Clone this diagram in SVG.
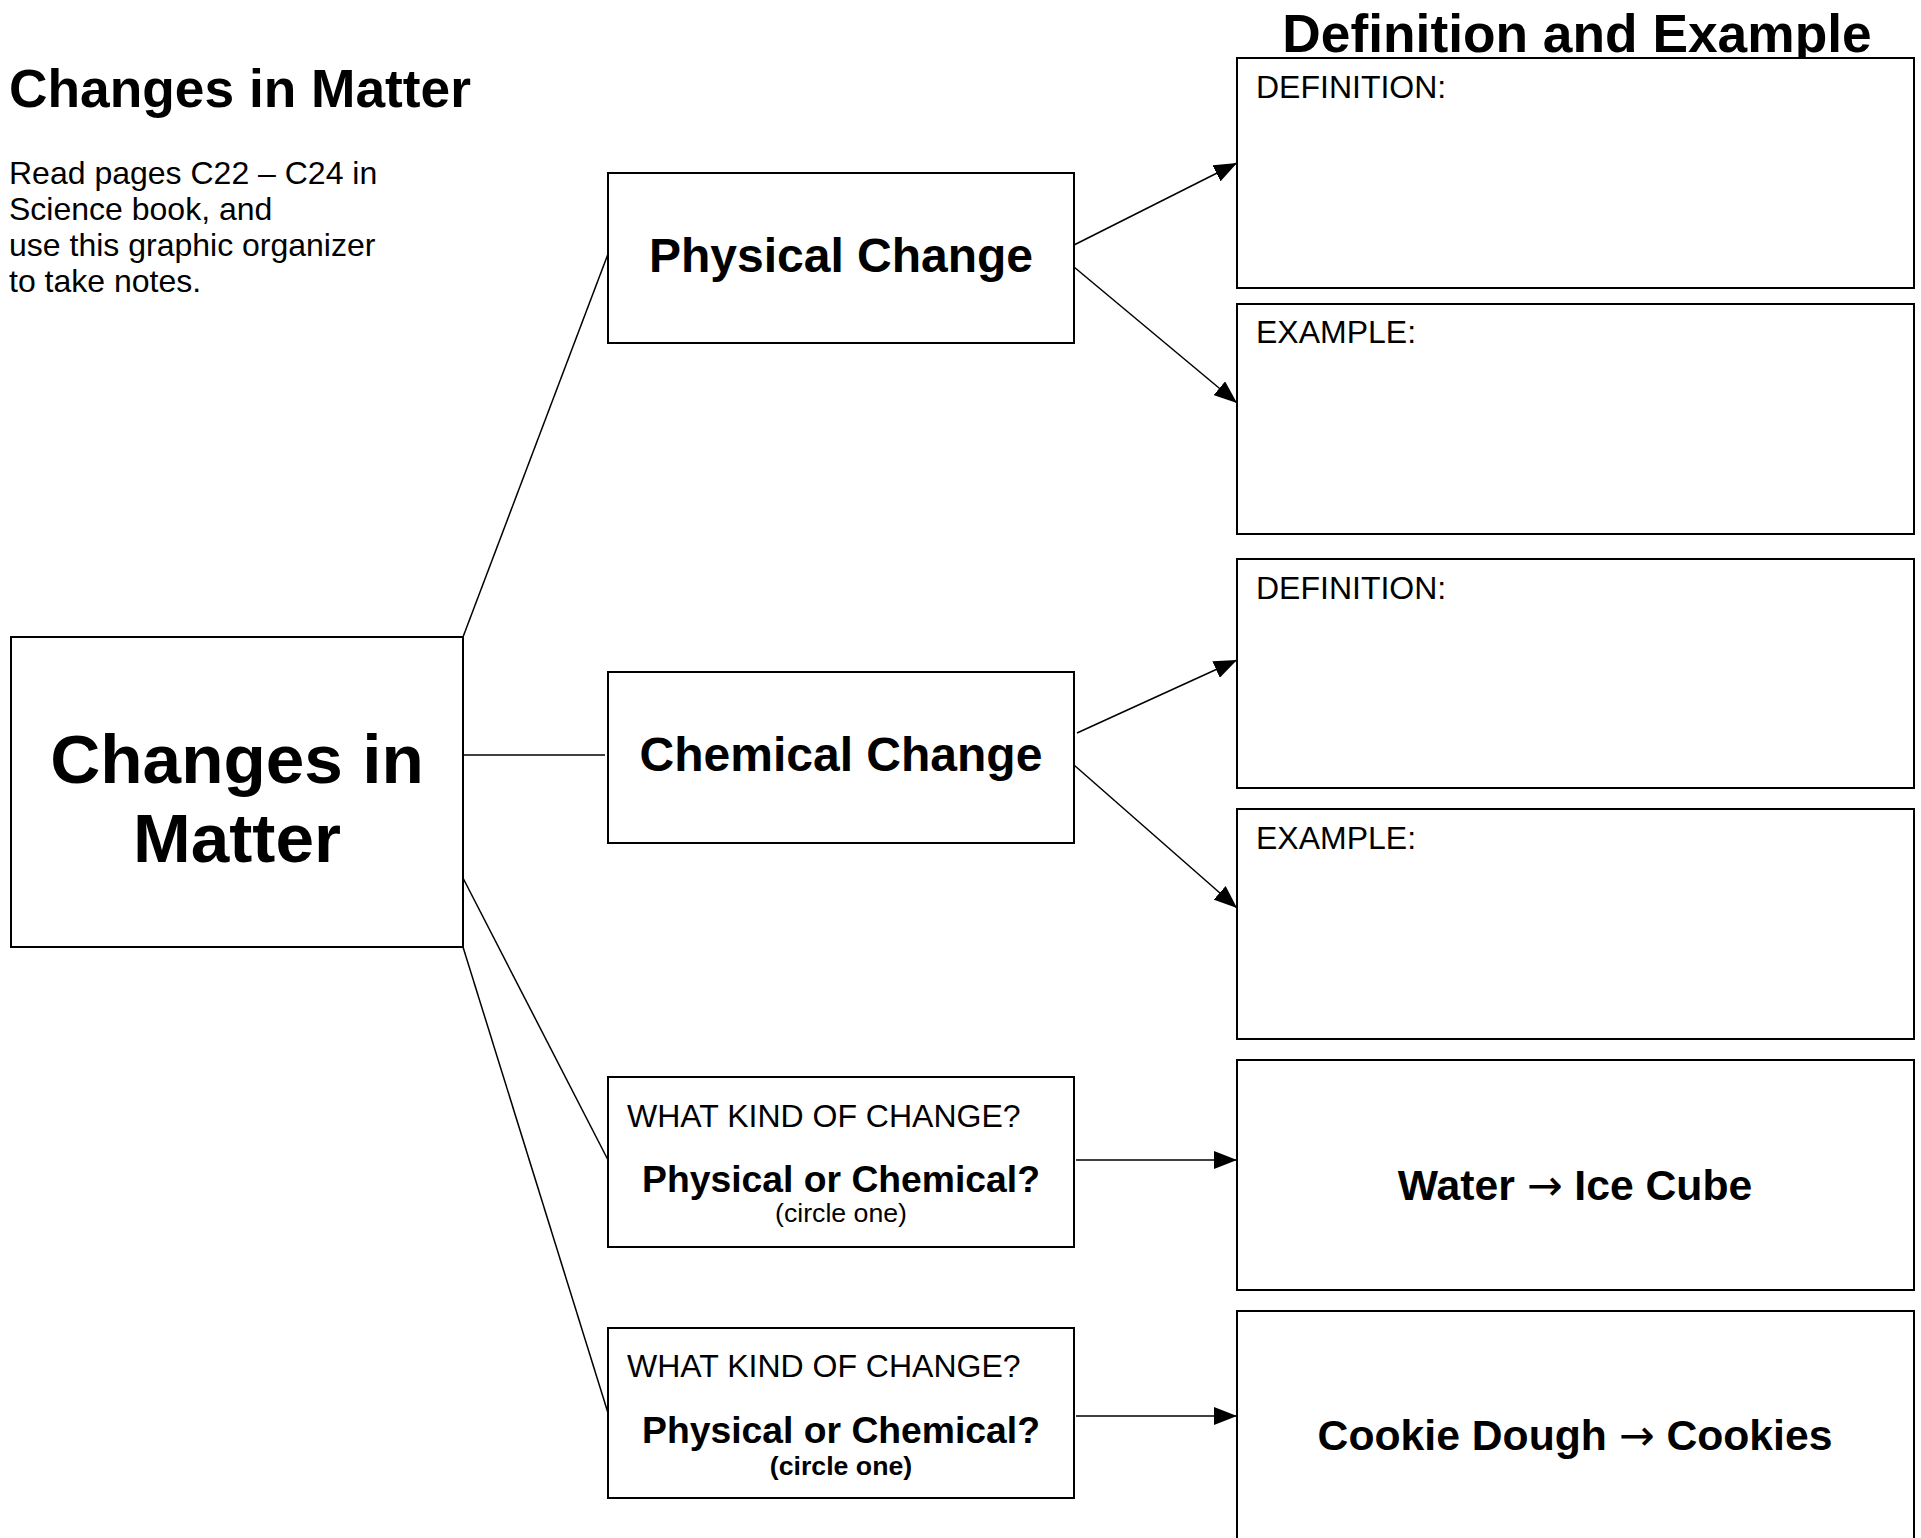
<svg xmlns="http://www.w3.org/2000/svg" width="1921" height="1538" viewBox="0 0 1921 1538">
<style>
  text { font-family: "Liberation Sans", Arial, sans-serif; fill: #000; }
  .box { fill: #fff; stroke: #000; stroke-width: 2; }
  .conn { stroke: #000; stroke-width: 1.5; fill: none; }
  .b { font-weight: bold; }
  .reg { font-size: 32px; }
  .c { text-anchor: middle; }
  .arr { font-family: "DejaVu Sans", sans-serif; font-weight: normal; }
</style>
<defs>
  <marker id="ah" markerUnits="userSpaceOnUse" markerWidth="23" markerHeight="18" refX="23" refY="9" orient="auto">
    <path d="M0,0 L23,9 L0,18 z" fill="#000"/>
  </marker>
</defs>
<rect width="1921" height="1538" fill="#fff"/>

<g id="header">
  <text x="9" y="107" class="b" font-size="53.3">Changes in Matter</text>
  <text x="9" y="184" class="reg">Read pages C22 – C24 in</text>
  <text x="9" y="220" class="reg">Science book, and</text>
  <text x="9" y="256" class="reg">use this graphic organizer</text>
  <text x="9" y="292" class="reg">to take notes.</text>
  <text x="1577" y="52" class="b c" font-size="53.3">Definition and Example</text>
</g>

<g id="connectors">
  <line class="conn" x1="463" y1="637" x2="608" y2="254"/>
  <line class="conn" x1="463" y1="755" x2="605" y2="755"/>
  <line class="conn" x1="463" y1="878" x2="608" y2="1160"/>
  <line class="conn" x1="463" y1="947" x2="608" y2="1413"/>
  <line class="conn" x1="1074" y1="245" x2="1237" y2="163" marker-end="url(#ah)"/>
  <line class="conn" x1="1074" y1="267" x2="1237" y2="403" marker-end="url(#ah)"/>
  <line class="conn" x1="1077" y1="733" x2="1237" y2="660" marker-end="url(#ah)"/>
  <line class="conn" x1="1074" y1="765" x2="1237" y2="908" marker-end="url(#ah)"/>
  <line class="conn" x1="1076" y1="1160" x2="1237" y2="1160" marker-end="url(#ah)"/>
  <line class="conn" x1="1076" y1="1416" x2="1237" y2="1416" marker-end="url(#ah)"/>
</g>

<g id="node-changes-in-matter">
  <rect class="box" x="11" y="637" width="452" height="310"/>
  <text x="237" y="783" class="b c" font-size="69.3">Changes in</text>
  <text x="237" y="862" class="b c" font-size="69.3">Matter</text>
</g>

<g id="node-physical-change">
  <rect class="box" x="608" y="173" width="466" height="170"/>
  <text x="841" y="272" class="b c" font-size="48">Physical Change</text>
</g>

<g id="node-chemical-change">
  <rect class="box" x="608" y="672" width="466" height="171"/>
  <text x="841" y="771" class="b c" font-size="48">Chemical Change</text>
</g>

<g id="node-question-1">
  <rect class="box" x="608" y="1077" width="466" height="170"/>
  <text x="627" y="1127" class="reg">WHAT KIND OF CHANGE?</text>
  <text x="841" y="1192" class="b c" font-size="37.3">Physical or Chemical?</text>
  <text x="841" y="1222" class="c" font-size="26.7">(circle one)</text>
</g>

<g id="node-question-2">
  <rect class="box" x="608" y="1328" width="466" height="170"/>
  <text x="627" y="1377" class="reg">WHAT KIND OF CHANGE?</text>
  <text x="841" y="1443" class="b c" font-size="37.3">Physical or Chemical?</text>
  <text x="841" y="1475" class="b c" font-size="26.7">(circle one)</text>
</g>

<g id="node-definition-1">
  <rect class="box" x="1237" y="58" width="677" height="230"/>
  <text x="1256" y="98" class="reg">DEFINITION:</text>
</g>

<g id="node-example-1">
  <rect class="box" x="1237" y="304" width="677" height="230"/>
  <text x="1256" y="343" class="reg">EXAMPLE:</text>
</g>

<g id="node-definition-2">
  <rect class="box" x="1237" y="559" width="677" height="229"/>
  <text x="1256" y="599" class="reg">DEFINITION:</text>
</g>

<g id="node-example-2">
  <rect class="box" x="1237" y="809" width="677" height="230"/>
  <text x="1256" y="849" class="reg">EXAMPLE:</text>
</g>

<g id="node-water">
  <rect class="box" x="1237" y="1060" width="677" height="230"/>
  <text x="1575" y="1200" class="b c" font-size="42.7">Water <tspan class="arr">→</tspan> Ice Cube</text>
</g>

<g id="node-cookie">
  <rect class="box" x="1237" y="1311" width="677" height="240"/>
  <text x="1575" y="1450" class="b c" font-size="42.7">Cookie Dough <tspan class="arr">→</tspan> Cookies</text>
</g>
</svg>
